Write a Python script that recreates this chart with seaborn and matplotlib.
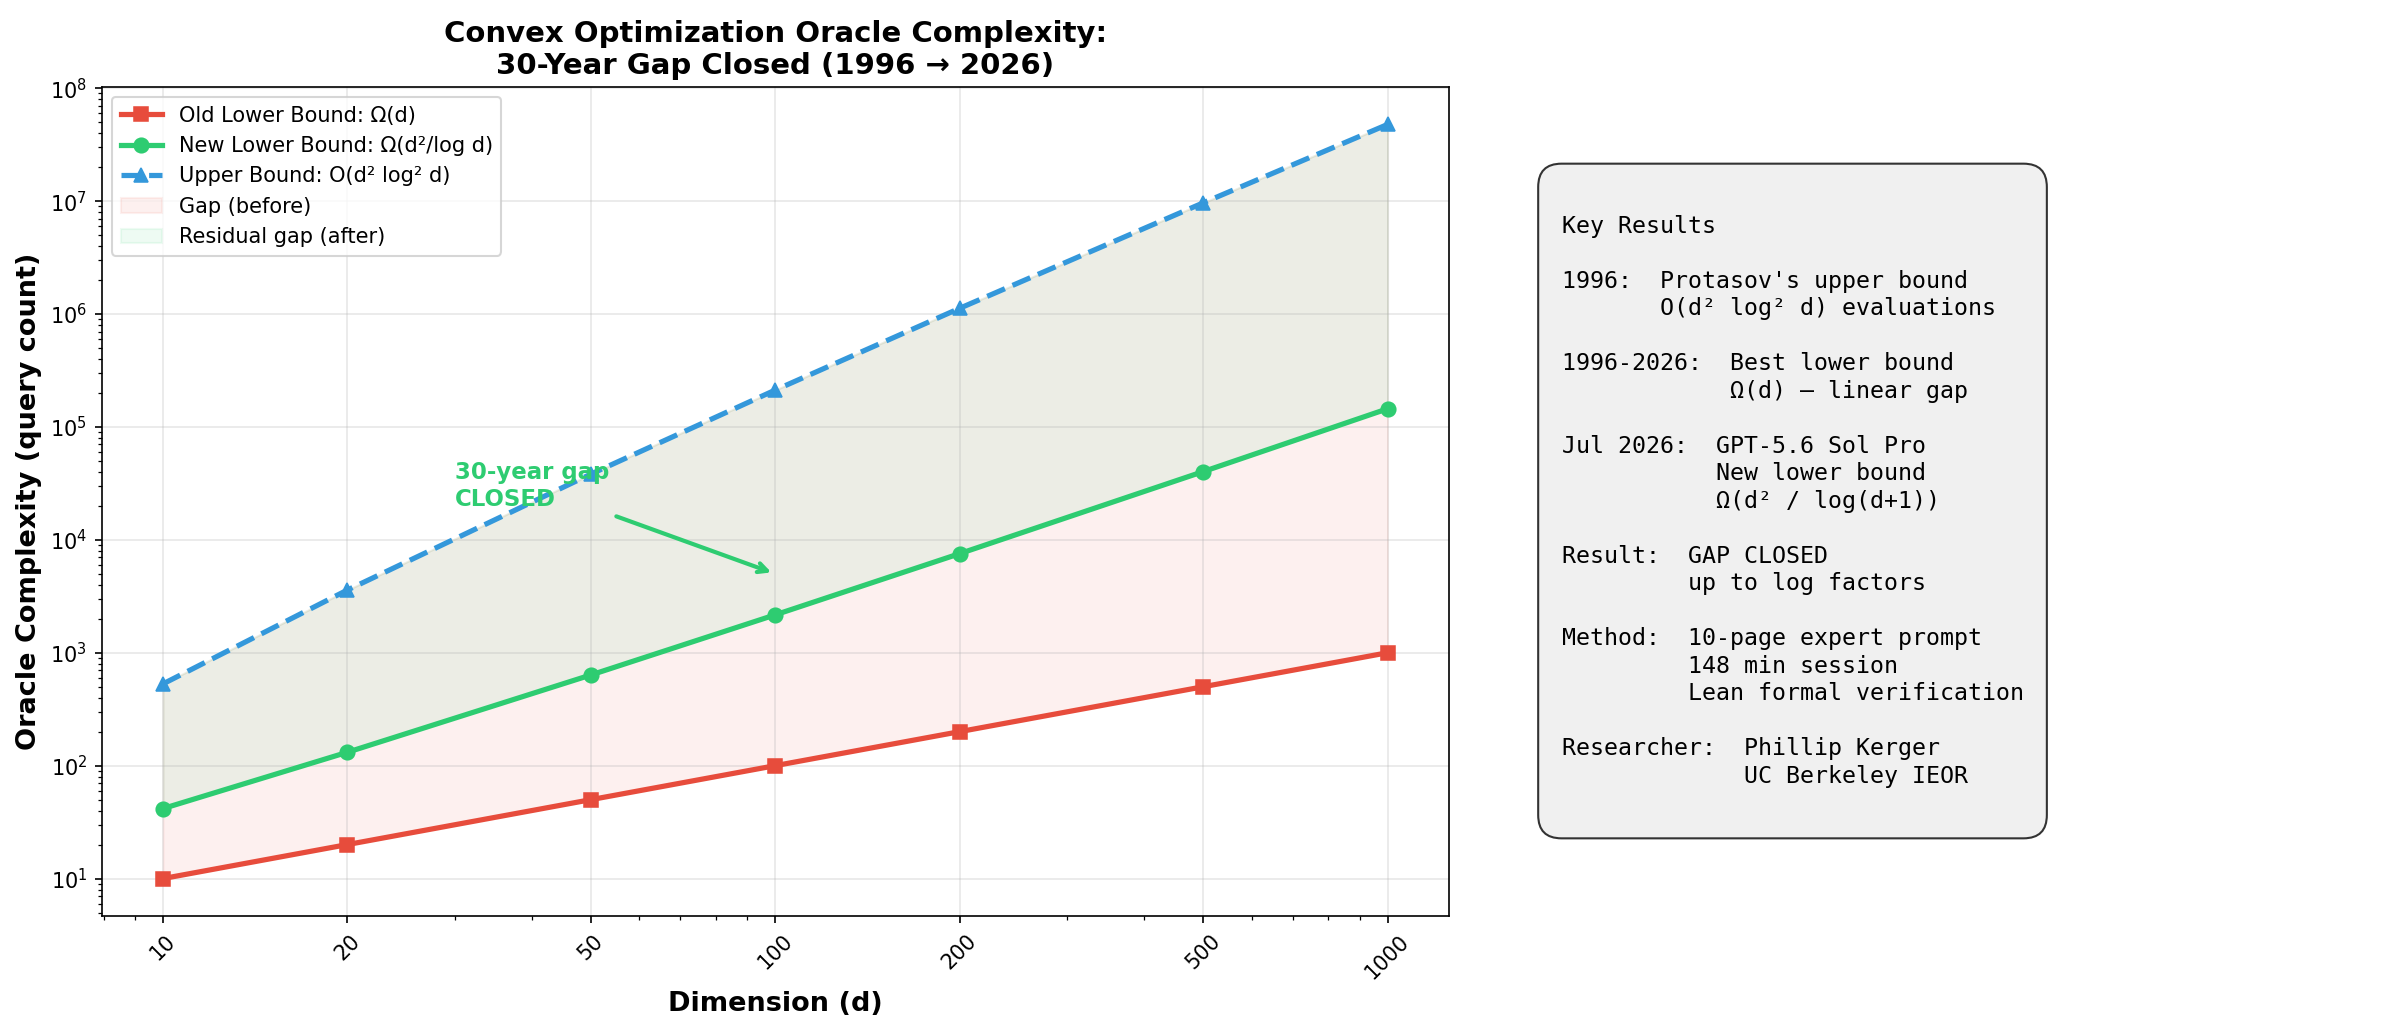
import numpy as np
import matplotlib
matplotlib.use("Agg")
import matplotlib.pyplot as plt
import seaborn as sns

# dimension values on x axis
dims = [10, 20, 50, 100, 200, 500, 1000]
dim_labels = ["10", "20", "50", "100", "200", "500", "1000"]

# query counts
old_lower = [10, 20, 50, 100, 200, 500, 1000]
new_lower = [41.7, 131.4, 636, 2167, 7543, 40215, 144743]
upper = [530, 3590, 38260, 212080, 1122900, 9655000, 47717000]

red = "#e74c3c"
green = "#2ecc71"
blue = "#3498db"

box_text = """
Key Results

1996:  Protasov's upper bound
       O(d² log² d) evaluations

1996-2026:  Best lower bound
            Ω(d) — linear gap

Jul 2026:  GPT-5.6 Sol Pro
           New lower bound
           Ω(d² / log(d+1))

Result:  GAP CLOSED
         up to log factors

Method:  10-page expert prompt
         148 min session
         Lean formal verification

Researcher:  Phillip Kerger
             UC Berkeley IEOR
"""

fig = plt.figure(figsize=(2384 / 150, 1033 / 150), dpi=150)
ax = fig.add_axes([0.0427, 0.113, 0.565, 0.803])

sns.lineplot(x=dims, y=old_lower, ax=ax, color=red, marker="s", markersize=7,
             markeredgecolor=red, linewidth=2.5, label="Old Lower Bound: Ω(d)")
sns.lineplot(x=dims, y=new_lower, ax=ax, color=green, marker="o", markersize=7,
             markeredgecolor=green, linewidth=2.5, label="New Lower Bound: Ω(d²/log d)")
sns.lineplot(x=dims, y=upper, ax=ax, color=blue, marker="^", markersize=7,
             markeredgecolor=blue, linewidth=2.5, linestyle="--",
             label="Upper Bound: O(d² log² d)")

ax.fill_between(dims, old_lower, upper, color=red, alpha=0.08, label="Gap (before)")
ax.fill_between(dims, new_lower, upper, color=green, alpha=0.08, label="Residual gap (after)")

ax.set_xscale("log")
ax.set_yscale("log")
ax.set_xticks(dims)
ax.set_xticklabels(dim_labels, rotation=45, fontsize=10)
ax.tick_params(axis="y", labelsize=10)
ax.grid(True, which="major", alpha=0.3)

ax.set_xlabel("Dimension (d)", fontsize=13, fontweight="bold")
ax.set_ylabel("Oracle Complexity (query count)", fontsize=13, fontweight="bold")
ax.set_title("Convex Optimization Oracle Complexity:\n30-Year Gap Closed (1996 → 2026)",
             fontsize=14, fontweight="bold")

ax.annotate("30-year gap\nCLOSED", xy=(100, 5000), xytext=(30, 3e4),
            fontsize=11, fontweight="bold", color=green, va="center",
            arrowprops=dict(arrowstyle="->", color=green, lw=2))

ax.legend(loc="upper left", fontsize=10)

fig.text(0.655, 0.515, box_text, fontsize=11.2, family="monospace", va="center", ha="left",
         linespacing=1.25,
         bbox=dict(boxstyle="round,pad=1", facecolor="#f0f0f0", edgecolor="#333333"))

fig.savefig("out.png", dpi=150)
